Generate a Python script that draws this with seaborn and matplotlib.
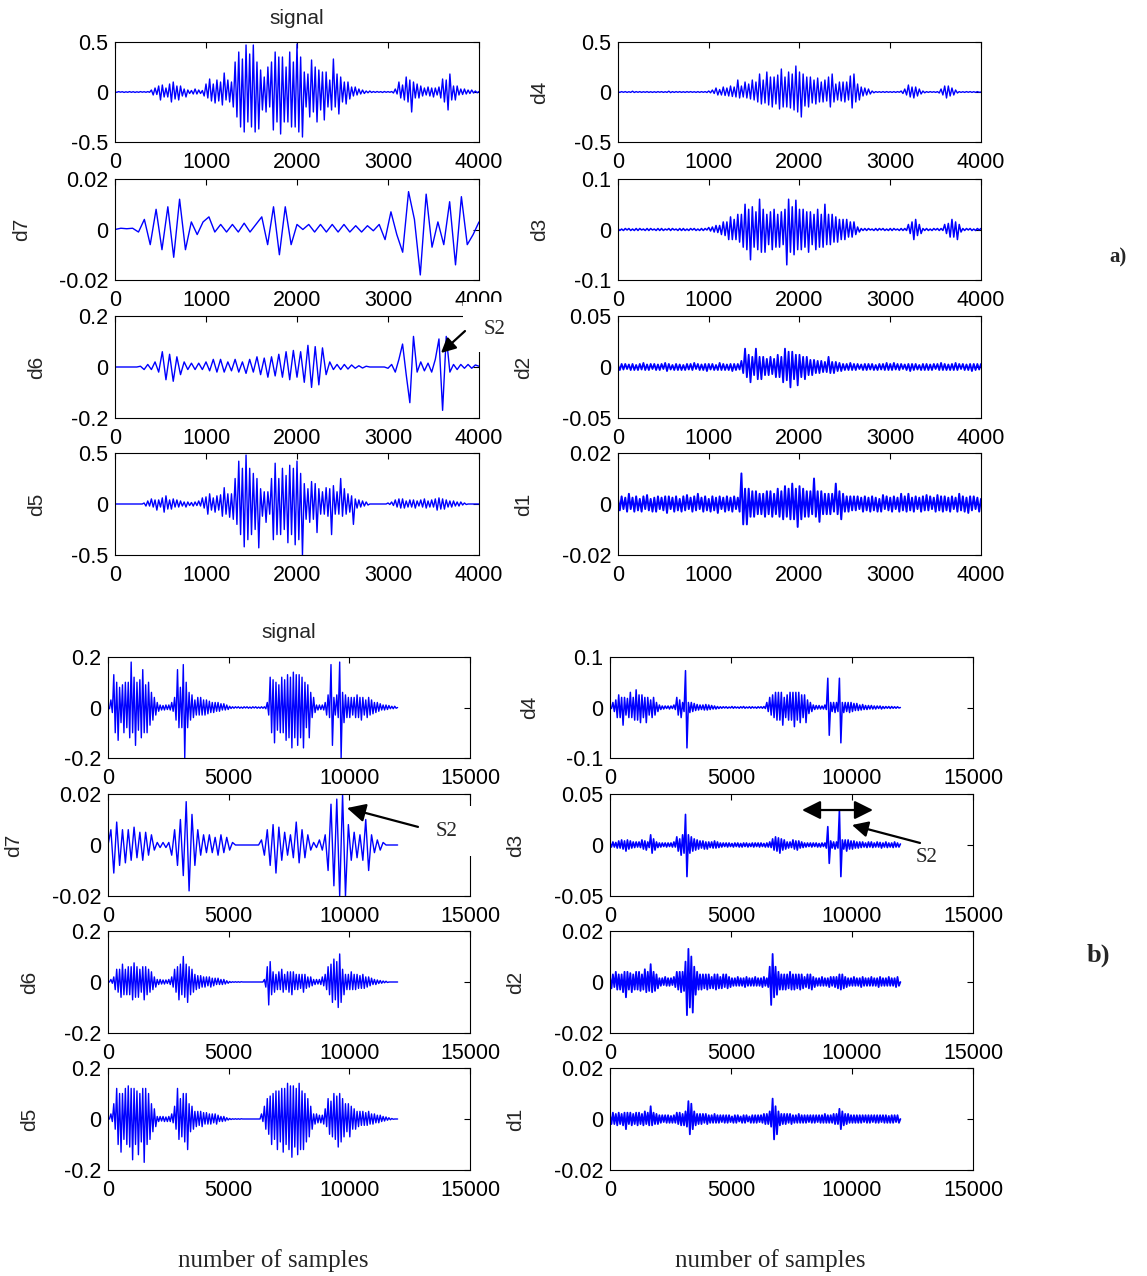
import numpy as np
import matplotlib
matplotlib.use("Agg")
import matplotlib.pyplot as plt
import seaborn as sns
from matplotlib.patches import Rectangle

sns.set_style("white")
plt.rcParams['font.family'] = ['Liberation Sans', 'DejaVu Sans']

# ---------------- data (integers in the stated unit) ----------------
# a) 4000 samples
sig_a = [0, -3, 4, -2, 3, -4, 2, -3, 4, -3, 3, -4, 2, -3, 4, -2, 3, -3, 4, -3,
         20, -30, 40, -25, 60, -80, 70, -50, 40, -50, 80, -100, 100, -70, 60, -80, 60, -40, 30, -50,
         20, -15, 15, -20, 30, -20, 20, -15, 15, -40, 80, -60, 130, -90, 80, -110, 120, -90, 100, -130,
         190, -80, 120, -100, 100, -150, 300, -250, 400, -350, 330, -400, 470, -300, 380, -350, 470, -400, 300, -370,
         220, -180, 150, -200, 250, -150, 300, -380, 400, -300, 350, -420, 350, -300, 250, -300, 400, -350, 300, -350,
         480, -400, 350, -450, 200, -150, 180, -250, 320, -200, 250, -300, 220, -180, 200, -280, 200, -150, 120, -180,
         330, -150, 180, -220, 150, -100, 100, -120, 100, -70, 50, -40, 50, -30, 30, -20, 20, -15, 10, -8,
         10, -5, 5, -4, 5, -3, 4, -5, 5, -3, 4, -3, 5, -10, 30, -20, 100, -60, 70, -80,
         150, -100, 120, -200, 100, -60, 80, -60, 60, -40, 40, -30, 50, -40, 40, -50, 40, -30, 50, -60,
         130, -100, 120, -180, 180, -80, 60, -80, 60, -30, 30, -25, 30, -20, 20, -15, 20, -10, 10, -8,
         5]                                                      # unit 0.001
d7_a = [0, 5, 3, 5, -10, 40, -60, 80, -80, 90,
        -110, 120, -80, 30, -20, 30, 50, -10, 20, -10,
        20, -10, 25, -10, 20, 50, -60, 90, -100, 90,
        -60, 20, 0, 20, -10, 20, -10, 20, -10, 20,
        -10, 15, -10, 15, -5, 20, -40, 70, -20, -90,
        150, 40, -180, 140, -70, 30, -60, 110, -140, 130,
        -60, -20, 30]                                           # unit 0.0001
d6_a = [0, 0, 0, 0, 0, 0, 0, 3, -10, 10,
        -10, 20, -20, 60, -50, 50, -56, 40, -30, 20,
        -10, 15, -10, 15, -10, 20, -15, 30, -20, 30,
        -20, 20, -15, 30, -20, 20, -25, 30, -20, 40,
        -30, 35, -40, 40, -35, 50, -40, 60, -50, 65,
        -40, 60, -60, 85, -80, 80, -70, 75, -30, 20,
        -10, 10, -10, 10, -8, 8, -5, 5, -4, 3,
        0, 0, 0, 0, 0, -5, 10, -20, 30, 90,
        -30, -140, 120, -20, 20, -15, 15, -20, 30, 110,
        -170, 120, -20, 10, -10, 10, -5, 10, -5, 8,
        3]                                                      # unit 0.001
d5_a = [0, 0, 0, 0, 0, 0, 0, 0, 0, 0, 0, 0, 0, 0, 0, 0,
        10, -20, 30, -20, 50, -30, 40, -60, 40, -30, 60, -80, 80, -50, 40, -50, 50, -30, 40, -30,
        30, -20, 20, -30, 20, -15, 15, -20, 20, -15, 30, -20, 60, -40, 70, -100, 100, -60, 60, -80,
        80, -60, 90, -120, 160, -100, 100, -130, 100, -150, 250, -200, 420, -300, 350, -420, 480, -350, 350, -300,
        300, -250, 250, -430, 150, -120, 120, -180, 120, -100, 250, -350, 400, -300, 250, -300, 350, -250, 280, -380,
        380, -300, 350, -400, 420, -350, 300, -500, 200, -150, 150, -180, 220, -150, 200, -280, 150, -100, 120, -100,
        160, -120, 150, -300, 180, -100, 120, -100, 250, -120, 150, -100, 100, -80, 80, -200, 50, -40, 40, -30,
        30, -20, 20, -10, 0, 0, 0, 0, 0, 0, 0, 0, 0, 0, 10, -5, 20, -15, 40, -30, 50, -40, 50, -40,
        30, -30, 40, -30, 40, -40, 30, -20, 40, -30, 50, -40, 30, -30, 40, -30, 50, -60, 60, -50,
        50, -50, 40, -30, 30, -30, 30, -20, 20, -20, 20, -10, 10, -5, 0, 0, 0, 0, 0, 0,
        0]                                                      # unit 0.001
d4_a = [3, -4, 4, -3, 4, -4, 3, -4, 8, -5, 4, -3, 4, -4, 3, -3, 4, -4, 3, -4,
        3, -4, 4, -3, 4, -4, 3, -4, 8, -6, 4, -4, 4, -3, 4, -4, 3, -4, 4, -3,
        4, -3, 3, -4, 4, -4, 4, -3, 4, -5, 10, -8, 20, -15, 40, -30, 25, -30, 50, -35,
        40, -40, 60, -45, 50, -50, 120, -60, 60, -50, 100, -60, 80, -70, 120, -80, 100, -100, 180, -120,
        120, -110, 200, -130, 150, -150, 150, -120, 170, -170, 230, -150, 150, -150, 200, -160, 180, -180, 260, -200,
        200, -250, 180, -140, 150, -150, 150, -110, 120, -120, 140, -100, 100, -100, 120, -90, 150, -150, 180, -100,
        80, -80, 100, -90, 100, -100, 100, -80, 160, -160, 180, -100, 80, -80, 50, -40, 40, -30, 30, -20,
        10, -8, 4, -3, 3, -4, 4, -4, 4, -3, 3, -4, 4, -4, 4, -3, 10, -15, 30, -30,
        70, -50, 50, -60, 50, -40, 30, -20, 10, -8, 4, -4, 4, -3, 3, -4, 4, -10, 30, -30,
        60, -60, 60, -40, 40, -30, 20, -10, 4, -4, 3, -4, 4, -3, 4, -4, 3, -4, 4, -3,
        0]                                                      # unit 0.001
d3_a = [2, -2, 1, -2, 2, -1, 2, -2, 1, -2, 2, -2, 2, -1, 1, -2, 2, -2, 2, -1,
        1, -2, 2, -2, 2, -2, 1, -1, 2, -2, 2, -1, 1, -2, 2, -2, 2, -2, 1, -2,
        2, -1, 2, -2, 1, -2, 2, -2, 2, -1, 4, -3, 5, -5, 8, -6, 8, -10, 15, -12,
        15, -20, 25, -20, 20, -20, 30, -25, 30, -35, 50, -40, 40, -60, 45, -35, 35, -40, 60, -45,
        40, -45, 30, -30, 35, -40, 40, -35, 30, -35, 35, -30, 40, -70, 60, -45, 45, -50, 58, -40,
        40, -40, 40, -35, 35, -45, 35, -30, 30, -40, 40, -35, 30, -35, 50, -30, 30, -30, 30, -25,
        25, -25, 20, -20, 20, -20, 20, -15, 15, -15, 15, -10, 5, -5, 2, -2, 2, -2, 2, -1,
        1, -2, 2, -2, 2, -1, 2, -2, 1, -2, 2, -2, 2, -1, 1, -2, 2, -2, 2, -2,
        10, -8, 15, -20, 20, -12, 10, -8, 2, -2, 2, -2, 1, -2, 2, -1, 2, -2, 2, -2,
        10, -8, 12, -15, 20, -15, 15, -20, 10, -5, 2, -2, 2, -1, 2, -2, 1, -2, 2, -1,
        2]                                                      # unit 0.001
d2_a = [20, -30, 30, -25, 30, -20, 25, -30, 30, -30, 20, -30, 30, -25, 40, -30, 25, -30, 30, -20,
        30, -30, 25, -30, 30, -20, 40, -40, 30, -25, 20, -30, 30, -30, 25, -30, 20, -30, 30, -25,
        30, -30, 40, -20, 30, -30, 25, -30, 30, -40, 30, -25, 30, -30, 20, -30, 40, -30, 30, -30,
        25, -30, 30, -40, 30, -30, 30, -25, 60, -60, 180, -100, 120, -150, 100, -80, 180, -120, 100, -120,
        100, -80, 80, -80, 100, -70, 80, -100, 120, -100, 100, -150, 180, -130, 150, -200, 150, -120, 120, -180,
        120, -100, 100, -120, 100, -80, 70, -80, 70, -60, 60, -60, 60, -50, 50, -50, 100, -60, 50, -60,
        50, -40, 40, -40, 30, -30, 30, -30, 40, -30, 30, -30, 30, -20, 25, -30, 30, -30, 30, -25,
        30, -30, 20, -30, 30, -25, 30, -30, 40, -30, 30, -30, 40, -25, 30, -30, 30, -20, 25, -30,
        30, -40, 30, -30, 30, -25, 20, -30, 30, -30, 30, -30, 25, -30, 30, -20, 30, -30, 40, -30,
        30, -30, 25, -30, 30, -30, 40, -30, 30, -20, 30, -30, 25, -30, 30, -40, 30, -30, 30, -25,
        30]                                                     # unit 0.0001
d1_a = [20, -25, 30, -20, 25, -30, 40, -20, 25, -30, 30, -25, 20, -30, 30, -20, 35, -25, 20, -30,
        25, -30, 30, -20, 25, -25, 30, -35, 30, -20, 25, -30, 30, -25, 20, -30, 30, -25, 35, -20,
        25, -30, 30, -25, 40, -20, 25, -30, 30, -25, 20, -30, 30, -25, 25, -35, 30, -20, 25, -30,
        30, -25, 25, -30, 30, -20, 25, -30, 120, -80, 60, -80, 60, -50, 50, -50, 50, -40, 40, -40,
        40, -50, 50, -40, 50, -50, 40, -40, 60, -50, 50, -60, 70, -50, 60, -60, 80, -60, 60, -90,
        70, -60, 60, -50, 50, -50, 50, -40, 100, -50, 50, -70, 50, -40, 40, -40, 40, -40, 40, -30,
        80, -40, 50, -60, 40, -30, 30, -30, 30, -25, 30, -25, 30, -20, 25, -30, 30, -25, 25, -30,
        30, -25, 25, -30, 20, -30, 35, -20, 30, -25, 25, -30, 30, -20, 25, -30, 40, -25, 30, -30,
        40, -25, 25, -30, 30, -20, 25, -30, 30, -25, 35, -25, 30, -20, 25, -30, 35, -25, 30, -30,
        30, -25, 25, -30, 30, -20, 25, -30, 40, -25, 30, -30, 25, -35, 30, -25, 30, -20, 25, -30,
        20]                                                     # unit 0.0001

# b) about 12000 samples
sig_b = [0, -5, 30, -20, 130, -100, 100, -130, 80, -60, 90, -100, 100, -80, 100, -120, 180, -100, 120, -150,
         100, -90, 110, -120, 150, -100, 90, -100, 100, -70, 60, -50, 40, -30, 20, -15, 10, -10, 8, -10,
         10, -8, 10, -10, 20, -15, 40, -50, 150, -80, 80, -80, 170, -200, 100, -80, 60, -50, 50, -40,
         30, -30, 40, -30, 40, -30, 30, -30, 30, -25, 25, -20, 20, -20, 20, -15, 20, -15, 15, -10,
         15, -10, 10, -8, 5, -4, 3, -3, 3, -2, 3, -3, 2, -3, 3, -2, 3, -3, 2, -3,
         3, -2, 3, -3, 2, -3, 3, -3, 3, -5, 20, -30, 120, -100, 110, -140, 100, -90, 90, -100,
         120, -100, 110, -130, 130, -120, 120, -160, 140, -120, 130, -150, 130, -120, 120, -160, 100, -80, 90, -120,
         60, -40, 40, -20, 10, -10, 10, -8, 10, -10, 20, -30, 50, -40, 170, -150, 40, -30, 50, -40,
         180, -200, 60, -60, 50, -40, 40, -40, 40, -30, 40, -40, 50, -40, 40, -50, 40, -30, 30, -40,
         40, -30, 30, -25, 20, -20, 20, -15, 15, -10, 10, -10, 10, -8, 8, -5, 5, -5, 5, -3,
         0]                                                     # unit 0.001
d7_b = [0, 60, -110, 90, -80, 60, -70, 60, -60, 70,
        -50, 50, -60, 50, -40, 40, -20, 10, -10, 10,
        -10, 10, -40, 60, -80, 100, -120, 170, -180, 120,
        -80, 60, -40, 40, -30, 40, -30, 30, -40, 40,
        -30, 30, -20, 10, 0, 0, 0, 0, 0, 0,
        0, 0, 0, 20, -40, 60, -80, 80, -110, 70,
        -60, 50, -40, 40, -50, 90, -70, 60, -50, 40,
        -20, 10, -10, 20, -20, 40, -100, 160, -160, 180,
        -200, 200, -200, 80, -60, 50, -50, 40, -60, 100,
        -100, 40, -30, 20, -20, 10, 0, 0, 0, 0,
        0]                                                      # unit 0.0001
d6_b = [0, 0, 10, -5, 20, -30, 50, -40, 50, -60, 70, -50, 50, -50, 60, -50, 60, -70, 75, -60,
        60, -60, 50, -40, 60, -70, 60, -50, 50, -40, 40, -30, 20, -20, 10, -10, 10, -8, 8, -8,
        8, -6, 10, -10, 20, -20, 50, -40, 60, -70, 70, -50, 100, -60, 70, -80, 60, -50, 50, -40,
        30, -30, 25, -25, 25, -20, 20, -20, 20, -15, 20, -20, 15, -15, 15, -10, 15, -10, 10, -10,
        10, -8, 5, -5, 2, -2, 1, -1, 1, -1, 1, -1, 1, 0, 0, 0, 0, 0, 0, 0,
        0, 0, 0, 0, 0, 0, 0, 0, 10, -20, 60, -90, 80, -50, 40, -40, 30, -30, 40, -30,
        50, -40, 30, -30, 40, -40, 40, -50, 40, -30, 30, -30, 30, -25, 30, -40, 30, -25, 20, -20,
        20, -15, 10, -10, 10, -8, 10, -10, 20, -15, 30, -30, 60, -50, 70, -80, 90, -70, 80, -100,
        110, -80, 50, -50, 30, -30, 30, -30, 40, -30, 30, -30, 30, -25, 25, -25, 30, -25, 20, -20,
        20, -15, 15, -10, 10, -10, 8, -6, 6, -5, 4, -3, 3, -2, 0, 0, 0, 0, 0, 0,
        0]                                                      # unit 0.001
d5_b = [0, 0, 20, -10, 60, -40, 120, -100, 100, -130, 100, -80, 120, -100, 130, -110, 120, -160, 120, -100,
        110, -140, 100, -90, 120, -170, 120, -100, 100, -80, 60, -50, 40, -30, 10, -10, 10, -8, 10, -10,
        8, -10, 10, -10, 20, -15, 50, -40, 120, -80, 80, -70, 100, -90, 100, -120, 60, -50, 50, -40,
        30, -30, 30, -25, 30, -30, 25, -20, 25, -20, 20, -20, 20, -15, 20, -20, 15, -10, 10, -10,
        10, -8, 5, -4, 2, -2, 1, -1, 1, -1, 1, -1, 1, 0, 0, 0, 0, 0, 0, 0,
        0, 0, 0, 0, 0, 0, 20, -10, 50, -40, 80, -60, 90, -100, 100, -80, 110, -120, 110, -90,
        120, -130, 120, -100, 140, -120, 130, -150, 130, -110, 120, -140, 140, -120, 110, -120, 100, -90, 80, -70,
        50, -40, 20, -20, 20, -15, 15, -15, 15, -20, 40, -30, 80, -60, 70, -70, 100, -80, 90, -110,
        100, -90, 80, -70, 60, -50, 60, -70, 50, -40, 40, -40, 30, -30, 30, -25, 30, -25, 25, -25,
        30, -20, 20, -20, 20, -15, 15, -15, 15, -10, 10, -8, 8, -5, 5, -3, 2, -1, 0, 0,
        0]                                                      # unit 0.001
d4_b = [0, -20, 100, -80, 150, -200, 250, -200, 200, -350, 200, -150, 180, -200, 300, -200, 200, -250, 350, -250,
        250, -300, 250, -200, 200, -300, 200, -150, 150, -200, 200, -150, 100, -80, 50, -40, 30, -30, 30, -20,
        30, -30, 30, -20, 50, -40, 200, -150, 150, -200, 100, -80, 730, -800, 100, -100, 100, -80, 80, -60,
        60, -50, 50, -40, 50, -50, 60, -50, 50, -40, 40, -30, 30, -30, 20, -20, 15, -15, 15, -10,
        15, -15, 10, -10, 20, -15, 15, -10, 10, -15, 15, -10, 20, -15, 10, -10, 15, -15, 15, -10,
        10, -15, 15, -10, 15, -15, 20, -20, 100, -80, 200, -150, 250, -200, 300, -250, 300, -250, 300, -350,
        200, -200, 250, -250, 300, -250, 300, -380, 300, -250, 300, -300, 250, -200, 250, -300, 150, -120, 100, -80,
        50, -40, 40, -30, 40, -30, 30, -30, 50, -40, 580, -550, 100, -80, 100, -100, 100, -80, 580, -700,
        100, -100, 100, -80, 100, -100, 100, -80, 80, -60, 80, -60, 50, -50, 60, -40, 40, -40, 40, -30,
        40, -30, 30, -30, 30, -20, 30, -30, 20, -20, 20, -15, 20, -20, 20, -15, 15, -15, 15, -10,
        0]                                                      # unit 0.0001
d3_b = [20, -20, 30, -20, 25, -30, 40, -30, 50, -40, 40, -60, 50, -40, 40, -30, 30, -25, 30, -20,
        30, -25, 50, -40, 40, -50, 30, -25, 100, -80, 60, -50, 30, -25, 20, -20, 20, -15, 20, -20,
        20, -15, 20, -20, 30, -20, 80, -60, 60, -100, 100, -80, 300, -310, 100, -80, 80, -60, 60, -50,
        50, -40, 40, -30, 40, -40, 30, -40, 30, -25, 30, -30, 40, -30, 30, -25, 20, -20, 20, -15,
        20, -20, 20, -15, 15, -20, 20, -15, 20, -20, 15, -20, 20, -15, 20, -20, 15, -15, 20, -20,
        20, -15, 20, -20, 20, -15, 15, -20, 20, -20, 30, -25, 60, -50, 80, -60, 70, -80, 60, -50,
        50, -40, 30, -30, 30, -25, 50, -40, 40, -50, 40, -30, 30, -25, 20, -20, 20, -15, 20, -20,
        20, -15, 20, -20, 15, -20, 20, -15, 20, -30, 180, -180, 40, -30, 30, -40, 30, -30, 340, -310,
        50, -40, 50, -60, 50, -40, 40, -40, 40, -30, 30, -30, 30, -25, 30, -20, 20, -25, 30, -20,
        30, -25, 20, -20, 30, -20, 25, -30, 20, -20, 30, -25, 20, -20, 20, -25, 30, -20, 20, -20,
        10]                                                     # unit 0.0001
d2_b = [20, -25, 30, -20, 40, -30, 30, -30, 30, -40, 40, -60, 40, -30, 35, -40, 30, -30, 40, -30,
        40, -35, 30, -30, 50, -40, 40, -35, 70, -40, 40, -35, 30, -25, 15, -15, 15, -12, 20, -15,
        15, -15, 15, -12, 20, -20, 40, -30, 40, -40, 40, -35, 80, -130, 130, -100, 100, -120, 60, -50,
        40, -30, 30, -30, 30, -25, 30, -30, 30, -25, 20, -25, 30, -30, 30, -25, 20, -25, 30, -20,
        30, -25, 20, -20, 15, -15, 15, -15, 20, -15, 15, -15, 15, -20, 20, -15, 15, -15, 15, -15,
        20, -15, 15, -15, 15, -20, 20, -15, 15, -20, 60, -90, 110, -60, 60, -50, 40, -30, 30, -30,
        30, -30, 30, -25, 40, -30, 30, -30, 30, -25, 30, -30, 30, -25, 20, -20, 30, -25, 30, -30,
        20, -20, 15, -15, 15, -15, 20, -15, 15, -15, 15, -20, 20, -15, 20, -20, 20, -25, 30, -30,
        30, -25, 20, -20, 15, -15, 15, -15, 20, -15, 15, -15, 15, -20, 20, -15, 15, -15, 15, -15,
        20, -15, 15, -15, 15, -20, 20, -15, 15, -15, 15, -15, 20, -15, 15, -15, 15, -20, 20, -15,
        0]                                                      # unit 0.0001
d1_b = [15, -20, 25, -20, 20, -25, 25, -20, 20, -25, 25, -40, 25, -20, 25, -25, 20, -20, 25, -25,
        25, -20, 20, -25, 30, -20, 25, -25, 50, -25, 25, -20, 20, -20, 15, -15, 15, -12, 15, -15,
        15, -15, 12, -15, 15, -15, 25, -20, 25, -25, 20, -25, 30, -30, 70, -60, 60, -40, 30, -25,
        20, -20, 20, -20, 20, -15, 20, -20, 15, -15, 15, -15, 20, -15, 15, -15, 15, -12, 15, -15,
        15, -15, 15, -12, 10, -15, 15, -15, 15, -10, 10, -15, 15, -15, 15, -10, 10, -15, 15, -15,
        15, -15, 15, -12, 15, -15, 20, -20, 20, -20, 30, -30, 80, -80, 50, -60, 30, -25, 20, -20,
        20, -20, 20, -15, 20, -20, 15, -15, 15, -15, 20, -15, 15, -15, 15, -15, 15, -12, 15, -15,
        15, -15, 15, -12, 15, -15, 15, -15, 20, -15, 15, -15, 15, -15, 20, -20, 20, -20, 40, -40,
        30, -25, 20, -20, 20, -15, 15, -15, 15, -15, 15, -15, 15, -15, 15, -12, 15, -15, 15, -15,
        15, -12, 15, -15, 15, -15, 15, -12, 15, -15, 15, -15, 12, -15, 15, -15, 15, -12, 15, -15,
        0]                                                      # unit 0.0001

xticks_a = [0, 1000, 2000, 3000, 4000]
xticks_b = [0, 5000, 10000, 15000]
len_a = 4000
len_b = 12000

# panel: (series, unit, last sample, xticks, y limit, ytick labels, name, line width)
panels_a = [
    (sig_a, 1e-3, len_a, xticks_a, 0.5, ['-0.5', '0', '0.5'], 'signal', 1.0),
    (d7_a, 1e-4, len_a, xticks_a, 0.02, ['-0.02', '0', '0.02'], 'd7', 1.0),
    (d6_a, 1e-3, len_a, xticks_a, 0.2, ['-0.2', '0', '0.2'], 'd6', 1.0),
    (d5_a, 1e-3, len_a, xticks_a, 0.5, ['-0.5', '0', '0.5'], 'd5', 1.0),
    (d4_a, 1e-3, len_a, xticks_a, 0.5, ['-0.5', '0', '0.5'], 'd4', 1.0),
    (d3_a, 1e-3, len_a, xticks_a, 0.1, ['-0.1', '0', '0.1'], 'd3', 1.1),
    (d2_a, 1e-4, len_a, xticks_a, 0.05, ['-0.05', '0', '0.05'], 'd2', 1.3),
    (d1_a, 1e-4, len_a, xticks_a, 0.02, ['-0.02', '0', '0.02'], 'd1', 1.4),
]
panels_b = [
    (sig_b, 1e-3, len_b, xticks_b, 0.2, ['-0.2', '0', '0.2'], 'signal', 1.0),
    (d7_b, 1e-4, len_b, xticks_b, 0.02, ['-0.02', '0', '0.02'], 'd7', 1.0),
    (d6_b, 1e-3, len_b, xticks_b, 0.2, ['-0.2', '0', '0.2'], 'd6', 1.0),
    (d5_b, 1e-3, len_b, xticks_b, 0.2, ['-0.2', '0', '0.2'], 'd5', 1.0),
    (d4_b, 1e-4, len_b, xticks_b, 0.1, ['-0.1', '0', '0.1'], 'd4', 1.1),
    (d3_b, 1e-4, len_b, xticks_b, 0.05, ['-0.05', '0', '0.05'], 'd3', 1.2),
    (d2_b, 1e-4, len_b, xticks_b, 0.02, ['-0.02', '0', '0.02'], 'd2', 1.3),
    (d1_b, 1e-4, len_b, xticks_b, 0.02, ['-0.02', '0', '0.02'], 'd1', 1.3),
]

# ---------------- layout (pixels) ----------------
W, H = 1147, 1276
fig = plt.figure(figsize=(W / 100, H / 100), dpi=100)
fig.patch.set_facecolor('white')

cols_a = [(115, 479), (618, 981)]
rows_a = [(42, 142), (179, 280), (316, 418), (453, 555)]
cols_b = [(108, 470), (610, 973)]
rows_b = [(657, 758), (794, 896), (931, 1033), (1068, 1170)]
ylab_x_a = [22, 37, 37, 540, 540, 524, 524]
ylab_x_b = [14, 30, 30, 530, 516, 516, 516]

TICK_FS = 15.5
BLUE = '#0000ff'


def make_ax(l, t, r, b):
    return fig.add_axes([l / W, 1 - b / H, (r - l) / W, (b - t) / H])


def draw_panel(ax, series, unit, n, xticks, lim, ylabels, lw):
    y = np.asarray(series, dtype=float) * unit
    x = np.linspace(0, n, len(y))
    sns.lineplot(x=x, y=y, ax=ax, color=BLUE, linewidth=lw,
                 estimator=None, sort=False)
    ax.set_xlim(xticks[0], xticks[-1])
    ax.set_ylim(-lim, lim)
    ax.set_xticks(xticks)
    ax.set_xticklabels([str(t) for t in xticks])
    ax.set_yticks([-lim, 0, lim])
    ax.set_yticklabels(ylabels)
    ax.set_xlabel('')
    ax.set_ylabel('')
    ax.tick_params(direction='in', top=True, right=True, length=4, width=0.8,
                   labelsize=TICK_FS, colors='black')
    ax.tick_params(axis='x', pad=7)
    ax.tick_params(axis='y', pad=5)
    for sp in ax.spines.values():
        sp.set_linewidth(0.8)
        sp.set_color('black')
    return ax


axes = {}
for part, panels, cols, rows, ylx in (('a', panels_a, cols_a, rows_a, ylab_x_a),
                                       ('b', panels_b, cols_b, rows_b, ylab_x_b)):
    for k, (series, unit, n, xt, lim, yl, name, lw) in enumerate(panels):
        c, r = divmod(k, 4)
        (l, rr), (t, b) = cols[c], rows[r]
        ax = make_ax(l, t, rr, b)
        draw_panel(ax, series, unit, n, xt, lim, yl, lw)
        axes[(part, name)] = ax
        if name == 'signal':
            fig.text((l + rr) / 2 / W, 1 - (t - 24) / H, 'signal', ha='center',
                     va='center', fontsize=15)
        else:
            fig.text(ylx[k - 1] / W, 1 - (t + b) / 2 / H, name, rotation=90,
                     ha='center', va='center', fontsize=15)

SERIF = ['Liberation Serif', 'DejaVu Serif']

# ---- annotations a) d6 ----
ax = axes[('a', 'd6')]
ax.add_patch(Rectangle((463 / W, 1 - 352 / H), 55 / W, 50 / H, transform=fig.transFigure,
                       facecolor='white', edgecolor='none', zorder=5, clip_on=False))
ax.annotate('', xy=(3582, 0.055), xytext=(3846, 0.141), annotation_clip=False,
            arrowprops=dict(arrowstyle='-|>', color='black', lw=1.6,
                            mutation_scale=22, shrinkA=0, shrinkB=0), zorder=6)
fig.text(495 / W, 1 - 330 / H, 'S2', ha='center', va='center', fontsize=15,
         family=SERIF, zorder=7)

# ---- annotations b) d7 ----
ax = axes[('b', 'd7')]
ax.add_patch(Rectangle((440 / W, 1 - 856 / H), 45 / W, 50 / H, transform=fig.transFigure,
                       facecolor='white', edgecolor='none', zorder=5, clip_on=False))
ax.annotate('', xy=(9903, 0.0145), xytext=(12845, 0.0071), annotation_clip=False,
            arrowprops=dict(arrowstyle='-|>', color='black', lw=1.6,
                            mutation_scale=28, shrinkA=0, shrinkB=0), zorder=6)
fig.text(447 / W, 1 - 831 / H, 'S2', ha='center', va='center', fontsize=15,
         family=SERIF, zorder=7)

# ---- annotations b) d3 ----
ax = axes[('b', 'd3')]
ax.annotate('', xy=(7934, 0.0343), xytext=(10868, 0.0343), annotation_clip=False,
            arrowprops=dict(arrowstyle='<|-|>', color='black', lw=1.6,
                            mutation_scale=28, shrinkA=0, shrinkB=0), zorder=6)
ax.annotate('', xy=(10000, 0.0196), xytext=(12810, 0.002), annotation_clip=False,
            arrowprops=dict(arrowstyle='-|>', color='black', lw=1.6,
                            mutation_scale=24, shrinkA=0, shrinkB=0), zorder=6)
fig.text(927 / W, 1 - 857 / H, 'S2', ha='center', va='center', fontsize=15,
         family=SERIF, zorder=7)

# ---- part labels / axis texts ----
fig.text(1118 / W, 1 - 257 / H, 'a)', ha='center', va='center', fontsize=15,
         family=SERIF, fontweight='bold')
fig.text(1098 / W, 1 - 955 / H, 'b)', ha='center', va='center', fontsize=19,
         family=SERIF, fontweight='bold')
fig.text(273 / W, 1 - 1261 / H, 'number of samples', ha='center', va='center',
         fontsize=18, family=SERIF)
fig.text(770 / W, 1 - 1261 / H, 'number of samples', ha='center', va='center',
         fontsize=18, family=SERIF)

fig.savefig('out.png', dpi=100, facecolor='white')
